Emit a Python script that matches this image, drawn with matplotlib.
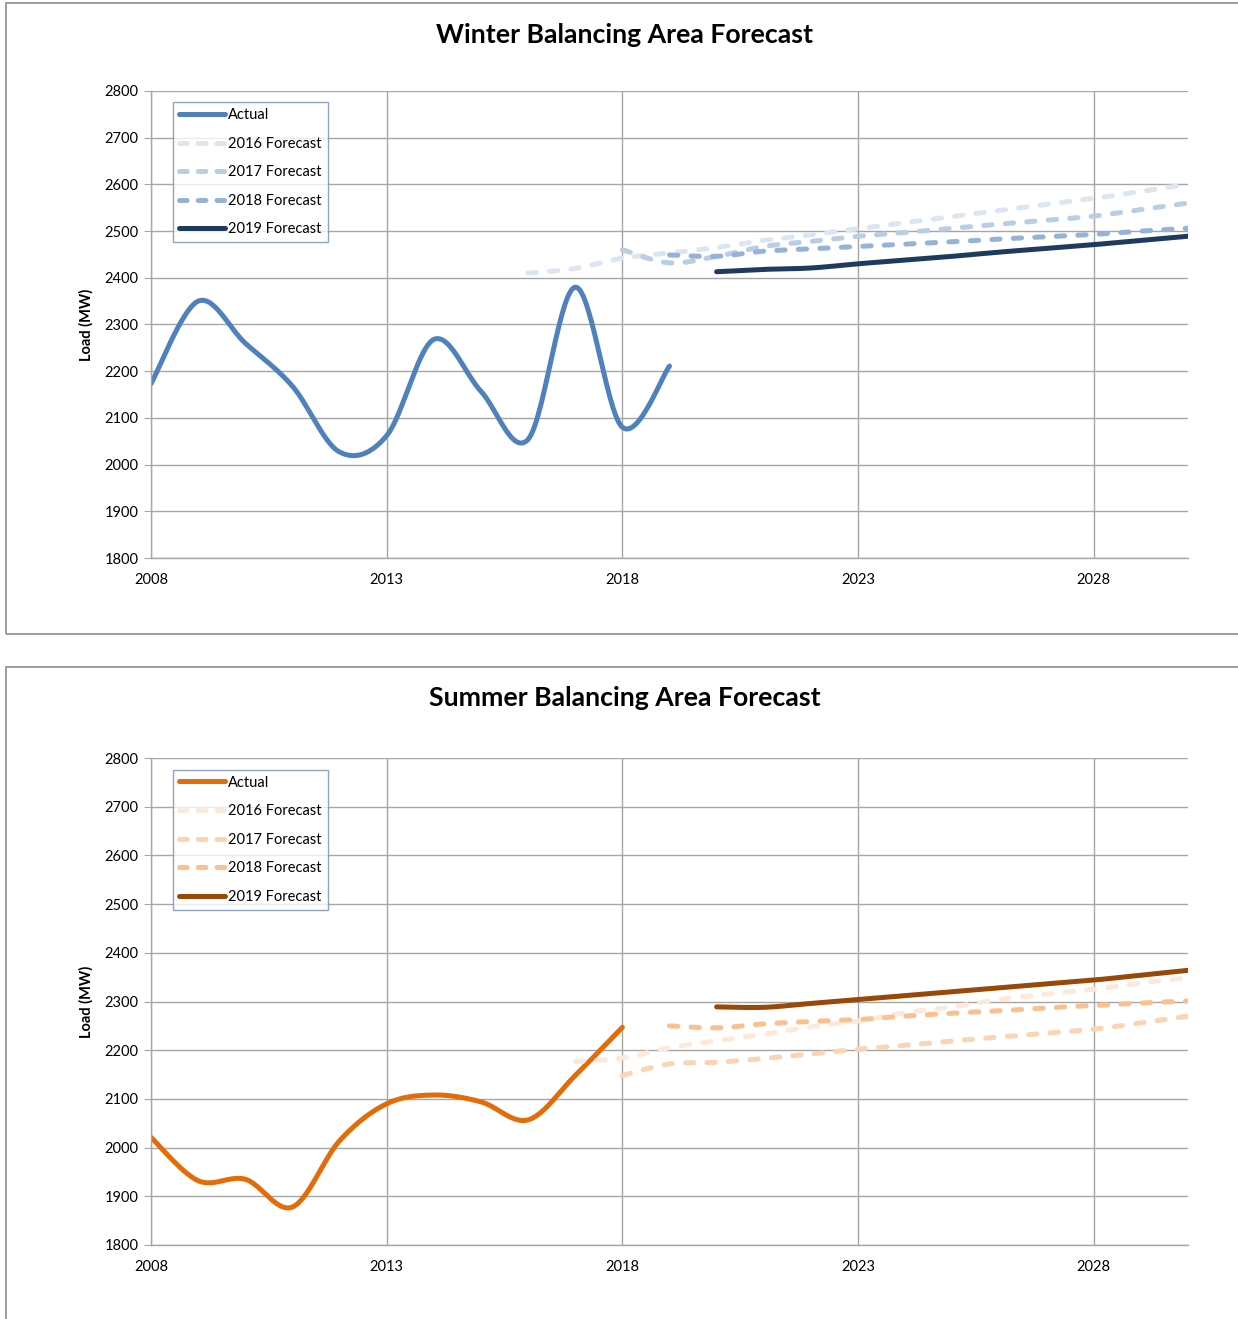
# Winter / summer balancing area load forecasts

import numpy as np
import matplotlib.pyplot as plt
from matplotlib.patches import Rectangle
from matplotlib.lines import Line2D

plt.rcParams['font.family'] = ['Lato', 'DejaVu Sans']
plt.rcParams['lines.scale_dashes'] = False

# ---- winter data (MW) ----
w_actual_years = [2008, 2009, 2010, 2011, 2012, 2013, 2014, 2015, 2016, 2017, 2018, 2019]
w_actual = [2173, 2350, 2260, 2168, 2027, 2062, 2268, 2157, 2054, 2380, 2080, 2211]

w_f2016_years = list(range(2016, 2031))
w_f2016 = [2410, 2420, 2442, 2453, 2465, 2480, 2492, 2505, 2518, 2531, 2544, 2557, 2570, 2585, 2600]
w_f2017_years = list(range(2018, 2031))
w_f2017 = [2460, 2432, 2446, 2467, 2478, 2489, 2497, 2506, 2515, 2523, 2532, 2546, 2560]
w_f2018_years = list(range(2019, 2031))
w_f2018 = [2449, 2446, 2457, 2462, 2467, 2472, 2477, 2483, 2488, 2493, 2500, 2506]
w_f2019_years = list(range(2020, 2031))
w_f2019 = [2413, 2418, 2421, 2430, 2438, 2446, 2455, 2463, 2471, 2480, 2489]

# ---- summer data (MW) ----
s_actual_years = [2008, 2009, 2010, 2011, 2012, 2013, 2014, 2015, 2016, 2017, 2018]
s_actual = [2021, 1932, 1935, 1878, 2014, 2090, 2108, 2094, 2057, 2148, 2247]

s_f2016_years = list(range(2017, 2031))
s_f2016 = [2177, 2184, 2205, 2219, 2233, 2248, 2260, 2277, 2289, 2304, 2315, 2325, 2338, 2349]
s_f2017_years = list(range(2018, 2031))
s_f2017 = [2148, 2172, 2175, 2183, 2192, 2202, 2210, 2219, 2227, 2235, 2243, 2256, 2270]
s_f2018_years = list(range(2019, 2031))
s_f2018 = [2250, 2246, 2254, 2259, 2263, 2270, 2276, 2281, 2287, 2292, 2297, 2301]
s_f2019_years = list(range(2020, 2031))
s_f2019 = [2289, 2288, 2296, 2304, 2312, 2320, 2328, 2336, 2344, 2354, 2364]

labels = ['Actual', '2016 Forecast', '2017 Forecast', '2018 Forecast', '2019 Forecast']
winter_colors = ['#4f81bd', '#dce6f2', '#b9cde5', '#95b3d7', '#1f3a5f']
summer_colors = ['#e36c09', '#fde9d9', '#fbd4b4', '#fac090', '#984807']


def smooth(xs, ys, n=30):
    # Excel style smoothed line: cubic bezier through the points
    p = np.column_stack([xs, ys]).astype(float)
    out = [p[0]]
    for i in range(len(p) - 1):
        p0 = p[i - 1] if i > 0 else p[i]
        p3 = p[i + 2] if i + 2 < len(p) else p[i + 1]
        c1 = p[i] + (p[i + 1] - p0) / 6
        c2 = p[i + 1] - (p3 - p[i]) / 6
        t = np.linspace(0, 1, n)[1:, None]
        seg = (1 - t)**3 * p[i] + 3 * (1 - t)**2 * t * c1 + 3 * (1 - t) * t**2 * c2 + t**3 * p[i + 1]
        out.extend(seg)
    out = np.array(out)
    return out[:, 0], out[:, 1]


W = 1238
H = 1319
fig = plt.figure(figsize=(W / 100, H / 100), dpi=100)

# panel frames
for top, bot in [(3, 634), (667, 1325)]:
    fig.patches.append(Rectangle((6 / W, 1 - bot / H), 1.5, (bot - top) / H,
                                 transform=fig.transFigure, fill=False,
                                 edgecolor='#8c8c8c', lw=1.2))

lw = 3.6
dash = (0, (6.0, 9.5))


def draw(ax, title, series, colors, title_y):
    for (xs, ys), c, lab in zip(series, colors, labels):
        sx, sy = smooth(xs, ys)
        if lab in ('Actual', '2019 Forecast'):
            ax.plot(sx, sy, color=c, lw=lw, solid_capstyle='round', label=lab)
        else:
            ax.plot(sx, sy, color=c, lw=lw, linestyle=dash, dash_capstyle='round', label=lab)
    ax.set_xlim(2008, 2030)
    ax.set_ylim(1800, 2800)
    ax.set_xticks([2008, 2013, 2018, 2023, 2028])
    ax.set_yticks(np.arange(1800, 2801, 100))
    ax.grid(True, color='#a6a6a6', lw=1)
    ax.set_axisbelow(True)
    for s in ['top', 'right']:
        ax.spines[s].set_visible(False)
    for s in ['left', 'bottom']:
        ax.spines[s].set_color('#a6a6a6')
        ax.spines[s].set_linewidth(1)
    ax.tick_params(axis='y', length=5, color='#a6a6a6', labelsize=10.5, pad=4)
    ax.tick_params(axis='x', length=0, labelsize=10.5, pad=11)
    ax.set_ylabel('Load (MW)', fontsize=10.5, fontweight='bold', labelpad=8)
    fig.text(625 / W, 1 - title_y / H, title, ha='center', va='center',
             fontsize=19.2, fontweight='bold')
    handles = []
    for c, lab in zip(colors, labels):
        if lab in ('Actual', '2019 Forecast'):
            handles.append(Line2D([], [], color=c, lw=lw, solid_capstyle='round'))
        else:
            handles.append(Line2D([], [], color=c, lw=lw, linestyle=(0, (5.5, 8)), dash_capstyle='round'))
    leg = ax.legend(handles, labels, loc='upper left', bbox_to_anchor=(0.021, 0.976),
                    fontsize=10.5, frameon=True, fancybox=False, handlelength=3.2,
                    handletextpad=0.2, borderpad=0.4, labelspacing=1.0, borderaxespad=0)
    leg.get_frame().set_edgecolor('#6f8fb5')
    leg.get_frame().set_linewidth(1)


ax1 = fig.add_axes([151 / W, 1 - 558 / H, 1037 / W, 467 / H])
draw(ax1, 'Winter Balancing Area Forecast',
     [(w_actual_years, w_actual), (w_f2016_years, w_f2016), (w_f2017_years, w_f2017),
      (w_f2018_years, w_f2018), (w_f2019_years, w_f2019)],
     winter_colors, 35)

ax2 = fig.add_axes([151 / W, 1 - 1245 / H, 1037 / W, 487 / H])
draw(ax2, 'Summer Balancing Area Forecast',
     [(s_actual_years, s_actual), (s_f2016_years, s_f2016), (s_f2017_years, s_f2017),
      (s_f2018_years, s_f2018), (s_f2019_years, s_f2019)],
     summer_colors, 698)

plt.savefig('out.png', dpi=100)
